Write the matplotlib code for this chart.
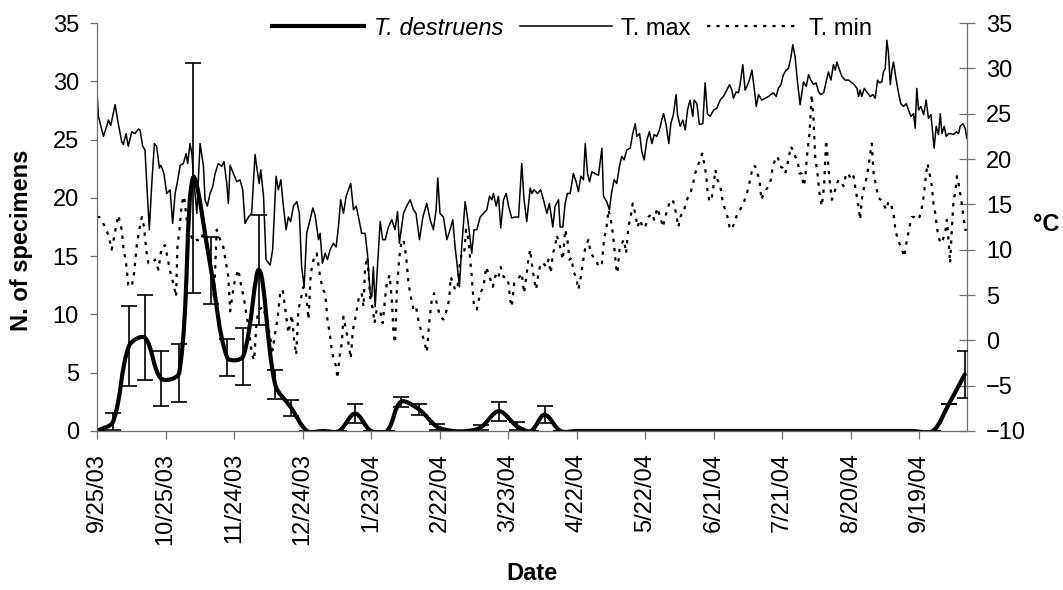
import numpy as np
import matplotlib
matplotlib.use('Agg')
import matplotlib.pyplot as plt
from matplotlib.path import Path
from matplotlib.patches import PathPatch
from matplotlib.lines import Line2D

plt.rcParams['font.family'] = ['Liberation Sans', 'DejaVu Sans']

# x values are days after 9/25/03
tick_days = [0, 30, 60, 90, 120, 150, 180, 210, 240, 270, 300, 330, 360]
tick_labels = ['9/25/03', '10/25/03', '11/24/03', '12/24/03', '1/23/04', '2/22/04',
               '3/23/04', '4/22/04', '5/22/04', '6/21/04', '7/21/04', '8/20/04', '9/19/04']

# T. destruens catches (mean and error per sample date)
td_day = [0, 7, 14, 21, 28, 36, 42, 50, 57, 64, 71, 78, 85, 92, 99, 106, 113, 120, 127,
          133, 141, 149, 156, 162, 168, 176, 184, 190, 196, 203, 210, 217, 224, 231, 238,
          245, 252, 259, 266, 273, 280, 287, 294, 301, 308, 315, 322, 329, 336, 343, 350,
          357, 366, 373, 380]
td_mean = [0, 0.8, 7.3, 8.0, 4.5, 5.0, 21.7, 13.75, 6.3, 6.4, 13.8, 4.0, 2.0, 0, 0, 0, 1.5, 0, 0,
           2.5, 1.85, 0.35, 0, 0, 0.3, 1.7, 0.4, 0, 1.4, 0, 0, 0, 0, 0, 0,
           0, 0, 0, 0, 0, 0, 0, 0, 0, 0, 0, 0, 0, 0, 0, 0,
           0, 0, 2.3, 4.85]
td_err = [0, 0.75, 3.4, 3.65, 2.35, 2.5, 9.9, 2.85, 1.6, 2.45, 4.7, 1.25, 0.7, 0, 0, 0, 0.85, 0, 0,
          0.4, 0.45, 0.25, 0, 0, 0.25, 0.8, 0.35, 0, 0.75, 0, 0, 0, 0, 0, 0,
          0, 0, 0, 0, 0, 0, 0, 0, 0, 0, 0, 0, 0, 0, 0, 0,
          0, 0, 0, 2.05]

# daily maximum temperature (deg C)
tmax_day = [0.0, 0.6, 2.8, 4.2, 5.0, 6.0, 7.9, 9.3, 10.8, 11.5, 12.7, 13.7, 15.2, 16.6, 18.1, 18.8,
            20.0, 21.0, 22.0, 22.9, 23.9, 25.1, 26.1, 27.3, 28.0, 29.3, 30.5, 32.0, 33.1, 34.2,
            35.2, 36.4, 37.8, 39.0, 39.7, 40.7, 41.5, 42.5, 43.7, 45.1, 46.6, 47.3, 48.3, 49.5,
            50.7, 51.7, 53.1, 54.6, 55.6, 56.8, 57.5, 58.3, 59.7, 61.2, 62.6, 63.8, 64.8, 66.3,
            67.7, 69.2, 69.9, 71.0, 71.7, 72.9, 74.0, 75.8, 76.9, 78.4, 79.4, 80.5, 81.6, 82.8,
            83.8, 84.8, 86.0, 87.5, 88.6, 89.6, 90.7, 91.8, 93.3, 94.5, 95.5, 97.0, 97.7, 98.7,
            99.9, 100.9,
            102.1, 103.5, 104.7, 105.7, 106.7, 107.9, 109.1, 110.1, 111.1, 112.3, 113.5, 114.5,
            115.9, 117.4, 118.4, 119.6, 120.3, 121.0, 121.8, 122.8, 124.0, 125.1, 126.2, 127.6,
            129.1, 130.5, 131.6, 132.4, 133.0, 134.2, 135.6, 137.1, 138.6, 139.7, 141.2, 142.7,
            144.4, 145.9, 147.3, 148.5, 149.2, 150.2, 151.7, 153.2, 154.6, 155.8, 156.8, 157.8,
            158.7, 159.7, 161.2, 162.2, 163.1, 164.1, 165.1, 166.3, 167.8, 169.2, 170.7, 171.9,
            172.9, 173.6, 174.8, 175.8, 176.8, 178.0, 179.2, 180.2, 181.6, 183.1, 184.6, 186.0,
            187.0, 188.2, 189.7, 190.4, 191.4, 192.9, 194.3, 195.5, 197.0, 198.1, 199.6, 200.6,
            202.1, 202.8, 204.0, 205.0, 206.0, 207.2,
            208.6, 209.8, 210.8, 211.9, 213.0, 213.8, 214.8, 215.7, 216.7, 218.1, 219.6, 221.1,
            221.8, 223.2, 224.4, 225.4, 226.5, 227.6, 228.8, 229.8, 230.8, 232.0, 233.5, 234.6,
            235.7, 236.4, 237.6, 238.6, 239.6, 240.8, 241.9, 243.0, 244.0, 245.1, 246.3, 247.3,
            248.1, 249.2, 250.4, 251.3, 252.4, 253.6, 254.2, 255.4, 256.5, 257.6, 258.6, 259.7,
            260.9, 261.5, 262.7, 263.8, 265.3, 266.3, 267.3, 268.5, 270.0, 271.4, 272.9, 274.3,
            275.8, 277.0, 278.0, 278.7, 279.9, 280.9, 281.6, 282.8, 283.8, 284.6, 285.7, 286.8,
            287.8, 288.7, 289.7, 291.1, 292.6, 294.1, 295.1, 296.2, 297.4, 298.4, 299.5, 300.6,
            301.8, 302.8, 303.8, 304.7, 305.7, 306.8, 307.9,
            309.4, 310.6, 311.6, 312.6, 313.8, 314.9, 316.0, 317.0, 318.2, 319.3, 320.3, 321.4,
            322.5, 323.3, 324.0, 325.2, 326.2, 327.6, 329.1, 330.6, 331.6, 332.8, 333.5, 334.2,
            334.9, 336.0, 337.1, 338.6, 339.8, 340.8, 341.8, 342.7, 343.7, 344.4, 345.2, 345.9,
            346.6, 347.4, 348.1, 348.8, 350.0, 351.0, 352.0, 353.2, 354.4, 355.4, 356.4, 357.6,
            358.3, 359.0, 359.8, 360.8, 362.0, 363.1, 364.1, 365.2, 366.0, 366.6, 367.5, 368.5,
            369.3, 370.0, 371.0, 371.9, 372.9, 373.9, 375.1, 376.3, 377.3, 378.0, 379.2, 380.2,
            380.9]
tmax_val = [27.3, 24.7, 22.5, 23.6, 24.3, 23.7, 26.0, 23.9, 21.9, 21.6, 22.8, 21.4, 23.0, 22.8, 23.3, 23.2,
            21.4, 21.0, 16.2, 12.2, 17.0, 21.7, 21.4, 19.0, 19.3, 18.4, 16.2, 16.6, 12.9, 16.2,
            17.5, 19.3, 19.5, 20.6, 19.5, 21.7, 20.6, 17.3, 14.0, 21.7, 19.2, 15.5, 14.8, 16.2,
            17.0, 18.4, 19.5, 19.2, 19.7, 17.3, 15.1, 19.3, 18.4, 17.5, 17.7, 16.6, 12.9, 13.6,
            14.0, 20.5, 19.2, 17.3, 18.8, 15.9, 8.9, 8.3, 10.0, 18.1, 16.6, 17.7, 14.8, 12.2,
            13.6, 13.1, 14.8, 15.3, 14.0, 8.1, 5.9, 11.8, 13.3, 14.6, 13.8, 11.1, 11.8, 8.5,
            9.6, 8.9,
            10.0, 10.7, 10.3, 12.5, 15.5, 14.0, 15.9, 16.6, 17.3, 14.4, 14.8, 13.6,
            11.8, 11.8, 9.6, 5.2, 4.8, 8.1, 3.7, 8.1, 13.1, 11.1, 11.1, 12.5,
            13.3, 12.2, 14.2, 10.7, 11.8, 14.0, 14.8, 15.5, 14.4, 14.0, 11.1, 13.6,
            15.1, 13.3, 12.2, 14.4, 17.9, 14.0, 13.6, 11.1, 12.2, 13.3, 10.3, 8.1,
            5.9, 10.3, 15.3, 13.6, 11.8, 9.6, 12.2, 12.2, 13.6, 14.0, 14.4, 15.9,
            15.5, 16.2, 14.8, 15.9, 12.4, 15.5, 16.2, 14.8, 13.5, 13.6, 13.6, 19.5,
            15.5, 13.1, 16.8, 16.2, 16.6, 16.2, 16.6, 15.5, 14.0, 15.1, 12.5, 14.8,
            15.5, 12.5, 12.5, 15.1, 16.2, 16.2,
            18.4, 17.5, 16.4, 18.1, 17.7, 21.7, 18.4, 17.5, 18.6, 18.4, 18.2, 21.2,
            15.9, 15.3, 14.4, 16.4, 17.7, 17.3, 19.2, 20.3, 19.9, 21.0, 21.2, 22.8,
            23.9, 22.5, 22.8, 20.8, 19.9, 22.1, 23.0, 21.7, 22.7, 22.5, 23.2, 24.3,
            25.0, 23.8, 21.7, 23.9, 24.9, 27.1, 24.9, 23.6, 24.3, 23.2, 25.4, 26.5,
            24.7, 26.5, 26.1, 23.8, 23.9, 28.4, 25.0, 24.7, 25.4, 25.6, 26.5, 26.9,
            27.6, 28.2, 27.6, 26.7, 27.4, 27.3, 28.2, 30.4, 27.6, 28.0, 28.7, 29.8,
            27.8, 25.8, 27.1, 26.5, 26.7, 26.9, 27.1, 27.3, 26.9, 27.8, 28.2, 29.3,
            29.8, 30.0, 31.1, 32.6, 31.3, 28.4, 26.0,
            28.5, 28.0, 29.3, 28.7, 28.2, 28.4, 27.4, 27.1, 27.3, 28.5, 29.6, 28.7,
            30.4, 29.8, 30.7, 29.8, 29.1, 28.7, 28.7, 28.4, 28.2, 27.8, 26.9, 27.6,
            26.9, 27.8, 27.4, 26.9, 27.1, 26.7, 28.7, 28.4, 28.5, 29.6, 30.0, 33.1,
            31.7, 28.2, 29.8, 30.7, 28.7, 27.3, 26.1, 25.8, 26.1, 25.4, 24.7, 25.0,
            23.4, 27.8, 25.4, 25.8, 24.9, 26.5, 24.5, 24.9, 22.8, 21.2, 23.6, 22.7,
            25.0, 22.8, 23.6, 22.5, 22.8, 22.8, 22.7, 23.0, 22.8, 23.6, 23.9, 23.4,
            22.3]

# daily minimum temperature (deg C)
tmin_day = [0.0, 1.0, 3.1, 5.0, 6.4, 7.4, 9.3, 10.8, 11.5, 12.7, 13.7, 15.2, 16.2, 17.4, 18.5, 19.6,
            20.6, 21.5, 22.5, 23.9, 25.4, 26.9, 28.3, 29.8, 30.8, 32.0, 33.4, 34.6, 35.2, 36.1,
            37.1, 38.1, 39.3, 40.7, 42.2, 43.7, 45.1, 46.6, 48.0, 49.2, 50.2, 51.2, 52.4, 53.9,
            55.3, 56.5, 57.5, 58.3, 59.4, 60.4, 61.9, 62.9, 64.4, 65.6, 66.7, 67.7, 68.8, 69.9,
            71.1, 72.6, 74.3, 75.8, 76.9, 78.0, 79.0, 80.2, 81.3, 82.3, 83.8, 85.3, 86.3, 87.2,
            88.2, 89.2, 90.4, 91.5, 92.6, 93.6, 94.8, 96.2, 97.7, 98.9, 99.9, 100.9,
            102.1, 102.8, 103.8, 104.7, 105.3, 106.2, 107.2, 107.9, 109.1, 110.1, 111.1, 112.0,
            113.0, 114.5, 115.9, 116.7, 117.4, 118.4, 119.6, 120.8, 121.5, 122.5, 124.0, 125.1,
            126.2, 126.9, 128.1, 129.1, 129.8, 130.5, 131.3, 132.4, 133.2, 134.2, 135.4, 136.4,
            137.4, 138.6, 139.7, 140.8, 142.2, 143.2, 144.4, 145.6, 146.6, 147.6, 148.8, 150.2,
            151.7, 153.2, 154.2, 154.9, 155.8, 156.8, 157.8, 158.7, 159.7, 160.8, 161.6, 162.7,
            163.4, 164.1, 165.1, 166.3, 167.8, 169.2, 170.4, 171.9, 173.3, 174.8, 175.8, 176.8,
            178.0, 179.2, 180.2, 180.9, 181.6, 182.7, 183.8, 185.0, 186.0, 187.0, 188.2, 188.9,
            189.7, 190.4, 191.4, 192.3, 193.3, 194.3, 195.5, 196.7, 197.7, 198.7, 199.6, 200.6,
            201.3, 202.8, 204.0, 205.0, 206.0, 206.9,
            207.9, 208.6, 209.8, 210.8, 211.9, 212.7, 213.8, 215.2, 216.2, 217.4, 218.6, 219.6,
            221.1, 222.1, 223.0, 224.0, 225.0, 225.9, 226.5, 227.3, 227.9, 228.8, 229.8, 230.8,
            231.7, 232.7, 233.8, 234.6, 235.7, 236.7, 237.8, 239.0, 240.0, 241.5, 243.0, 244.0,
            245.4, 246.6, 247.8, 248.8, 249.8, 251.0, 252.4, 253.6, 254.6, 255.7, 256.8, 258.0,
            259.0, 260.0, 260.9, 261.9, 263.0, 264.1, 265.0, 265.9, 266.8, 267.3, 268.2, 269.2,
            270.0, 270.8, 271.7, 272.9, 274.1, 275.1, 276.1, 277.0, 278.0, 279.5, 280.5, 281.6,
            283.1, 284.6, 286.0, 287.2, 288.2, 289.2, 290.1, 291.0, 291.9, 293.0, 294.1, 295.1,
            296.0, 297.0, 298.0, 299.2, 300.3, 301.4, 302.1, 302.8, 303.8, 304.7, 305.7, 306.8,
            307.6,
            308.7, 309.4, 310.1, 310.9, 312.0, 313.0, 313.8, 314.5, 315.5, 316.4, 317.4, 318.4,
            319.3, 319.9, 320.8, 321.8, 322.8, 323.7, 324.7, 325.7, 326.9, 328.1, 329.1, 330.1,
            331.3, 332.5, 333.5, 334.2, 334.9, 335.7, 336.8, 337.9, 338.6, 339.3, 340.1, 341.2,
            342.2, 343.3, 344.4, 345.6, 346.6, 347.6, 348.8, 349.5, 350.6, 351.4, 352.5, 353.5,
            354.7, 355.8, 356.8, 357.9, 359.0, 360.2, 361.2, 362.2, 363.1, 363.7, 364.6, 365.6,
            366.3, 367.1, 367.8, 368.5, 369.5, 370.4, 371.4, 372.2, 372.9, 373.6, 374.4, 375.1,
            375.8, 376.6, 377.3, 378.0, 378.7, 379.5, 380.2, 380.9]
tmin_val = [13.6, 13.6, 12.7, 11.6, 10.0, 11.3, 13.8, 12.2, 10.3, 8.5, 6.1, 5.9, 7.4, 10.5, 12.2, 13.6,
            12.5, 10.0, 8.5, 8.5, 8.9, 7.8, 10.3, 10.5, 9.2, 7.6, 6.3, 4.8, 10.3, 12.2,
            15.1, 15.9, 13.3, 11.8, 10.9, 11.1, 10.9, 11.8, 10.7, 9.6, 7.8, 4.5, 12.2, 11.1,
            10.3, 8.5, 7.0, 3.2, 5.2, 6.7, 7.8, 6.3, 4.5, 2.6, 0.8, -1.4, -2.2, 2.3,
            3.4, 3.7, 2.3, 0.4, -1.1, 0.8, 2.3, 5.2, 5.6, 3.7, 0.8, 2.8, 0.0, -1.6,
            3.4, 4.5, 5.9, 5.2, 2.3, 7.4, 8.9, 9.6, 7.0, 5.6, 5.2, 2.3,
            0.4, -1.1, -2.2, -2.9, -4.2, -1.8, -0.3, 2.6, 1.1, -0.3, -2.0, 1.1,
            2.3, 4.5, 5.2, 3.7, 8.1, 9.2, 4.8, 3.4, 1.9, 3.4, 3.2, 1.9,
            4.8, 6.3, 7.2, 4.5, 0.8, -0.3, 5.6, 9.2, 10.7, 11.1, 9.2, 6.3,
            4.8, 3.4, 3.7, 2.1, 0.8, 0.0, -1.3, 2.3, 4.5, 5.2, 4.1, 2.6,
            2.3, 3.4, 4.5, 7.0, 6.3, 5.6, 5.6, 8.1, 9.6, 9.6, 12.2, 11.1,
            8.9, 7.0, 3.7, 3.4, 5.2, 5.9, 8.1, 7.0, 5.9, 7.4, 7.0, 8.1,
            7.0, 7.0, 6.3, 4.5, 3.7, 6.3, 6.7, 7.0, 7.4, 5.2, 7.4, 8.9,
            10.0, 8.5, 6.7, 5.6, 7.4, 8.5, 8.5, 8.1, 8.9, 7.4, 9.6, 10.3,
            11.6, 10.3, 8.9, 12.2, 11.1, 8.9,
            9.1, 7.6, 7.0, 5.6, 7.0, 8.5, 10.2, 11.1, 9.6, 9.2, 8.9, 8.1,
            8.5, 11.3, 12.2, 14.4, 13.3, 11.8, 10.3, 8.1, 7.4, 10.0, 10.7, 11.1,
            9.6, 12.5, 13.8, 15.1, 14.0, 12.5, 13.3, 12.4, 12.5, 13.6, 14.0, 13.3,
            14.6, 13.6, 12.5, 13.6, 14.4, 15.5, 15.3, 14.0, 12.5, 13.8, 14.0, 15.3,
            15.9, 16.4, 17.1, 18.4, 19.2, 19.9, 20.6, 19.5, 18.2, 16.6, 15.3, 15.7,
            17.1, 18.8, 17.7, 17.1, 15.1, 14.4, 13.6, 12.5, 12.2, 13.3, 14.0, 14.4,
            15.1, 16.2, 17.7, 19.2, 19.2, 18.4, 17.7, 15.5, 16.2, 16.6, 17.0, 17.7,
            19.3, 19.9, 20.3, 19.2, 19.0, 18.4, 19.2, 19.9, 21.4, 21.0, 20.3, 19.9,
            18.4,
            18.4, 17.0, 17.7, 20.3, 22.8, 27.1, 24.3, 20.3, 18.4, 16.2, 14.8, 17.0,
            22.1, 20.3, 17.7, 15.5, 16.2, 17.0, 17.7, 17.5, 17.0, 18.4, 18.4, 17.7,
            18.1, 16.2, 14.8, 13.3, 15.5, 16.6, 17.7, 19.2, 20.6, 21.7, 18.4, 17.0,
            15.7, 15.5, 15.1, 14.4, 15.3, 15.1, 14.0, 12.5, 11.1, 10.7, 10.0, 9.2,
            11.1, 12.5, 13.6, 13.6, 13.3, 13.6, 14.6, 16.2, 18.4, 19.5, 18.4, 17.0,
            15.1, 14.0, 12.5, 11.4, 10.7, 11.1, 11.8, 13.3, 11.1, 8.5, 12.5, 15.5,
            16.2, 18.1, 17.3, 16.2, 15.1, 13.6, 12.2, 12.2]


def smooth_path(ax, xs, ys):
    # Excel style smoothed line: bezier through every point, tangents scaled
    # by segment length on screen so short segments do not overshoot
    to_px = ax.transData
    pts = to_px.transform(np.column_stack([xs, ys]).astype(float))
    n = len(pts)
    verts = [pts[0]]
    codes = [Path.MOVETO]
    for i in range(n - 1):
        p0 = pts[max(i - 1, 0)]
        p1 = pts[i]
        p2 = pts[i + 1]
        p3 = pts[min(i + 2, n - 1)]
        d01 = np.hypot(*(p1 - p0))
        d12 = np.hypot(*(p2 - p1))
        d23 = np.hypot(*(p3 - p2))
        k1 = d12 / (3.0 * (d01 + d12)) if d01 + d12 > 0 else 0
        k2 = d12 / (3.0 * (d12 + d23)) if d12 + d23 > 0 else 0
        verts += [p1 + (p2 - p0) * k1, p2 - (p3 - p1) * k2, p2]
        codes += [Path.CURVE4] * 3
    verts = to_px.inverted().transform(np.array(verts))
    return Path(verts, codes)


axis_grey = '#6e6e6e'
fs = 17

fig = plt.figure(figsize=(10.63, 5.90), dpi=100)
ax = fig.add_axes([0.0913, 0.2695, 0.8184, 0.6915])
ax2 = ax.twinx()

ax.set_xlim(0, 381)
ax.set_ylim(0, 35)
ax2.set_ylim(-10, 35)

# temperature lines on the right axis
ln_max, = ax2.plot(tmax_day, tmax_val, color='black', lw=1.1, solid_joinstyle='round')
ln_min, = ax2.plot(tmin_day, tmin_val, color='black', lw=1.6, linestyle=(0, (1.5, 2.7)),
                   dash_capstyle='butt')

# specimen counts on the left axis, drawn above the temperatures
ax.set_zorder(ax2.get_zorder() + 1)
ax.patch.set_visible(False)
ax.add_patch(PathPatch(smooth_path(ax, td_day, td_mean), facecolor='none', edgecolor='black',
                       lw=3.0, capstyle='round', joinstyle='round'))
ax.errorbar(td_day, td_mean, yerr=td_err, fmt='none', ecolor='black', elinewidth=1.2,
            capsize=5.8, capthick=1.2)

ax.set_yticks(np.arange(0, 36, 5))
ax2.set_yticks(np.arange(-10, 36, 5))
ax.set_xticks(tick_days)
ax.set_xticklabels(tick_labels, rotation=90)

for a in (ax, ax2):
    a.spines['top'].set_visible(False)
ax.spines['right'].set_visible(False)
ax2.spines['left'].set_visible(False)
ax2.spines['bottom'].set_visible(False)
for sp in ('left', 'bottom'):
    ax.spines[sp].set_color(axis_grey)
    ax.spines[sp].set_linewidth(0.9)
ax2.spines['right'].set_color(axis_grey)
ax2.spines['right'].set_linewidth(0.9)

ax.tick_params(axis='y', direction='out', length=5, width=0.9, color=axis_grey,
               labelsize=fs, pad=8)
ax.tick_params(axis='x', direction='out', length=6, width=0.9, color=axis_grey,
               labelsize=fs, pad=10)
ax2.tick_params(axis='y', direction='inout', length=11, width=0.9, color=axis_grey,
                labelsize=fs, pad=8)

ax.set_ylabel('N. of specimens', fontsize=fs, fontweight='bold')
ax.yaxis.set_label_coords(-0.074, 0.468)
ax.set_xlabel('Date', fontsize=fs, fontweight='bold')
ax.xaxis.set_label_coords(0.5, -0.32)
ax2.set_ylabel('°C', fontsize=fs, fontweight='bold', rotation=0, va='center', ha='center')
ax2.yaxis.set_label_coords(1.091, 0.507)

h_td = Line2D([], [], color='black', lw=3.0)
leg = fig.legend([h_td, ln_max, ln_min], ['T. destruens', 'T. max', 'T. min'],
                 loc='center', bbox_to_anchor=(0.538, 0.9525), ncol=3, frameon=False,
                 fontsize=fs, handlelength=3.9, handletextpad=0.4, columnspacing=0.7,
                 borderpad=0)
leg.get_texts()[0].set_style('italic')

fig.savefig('out.png', dpi=100)
